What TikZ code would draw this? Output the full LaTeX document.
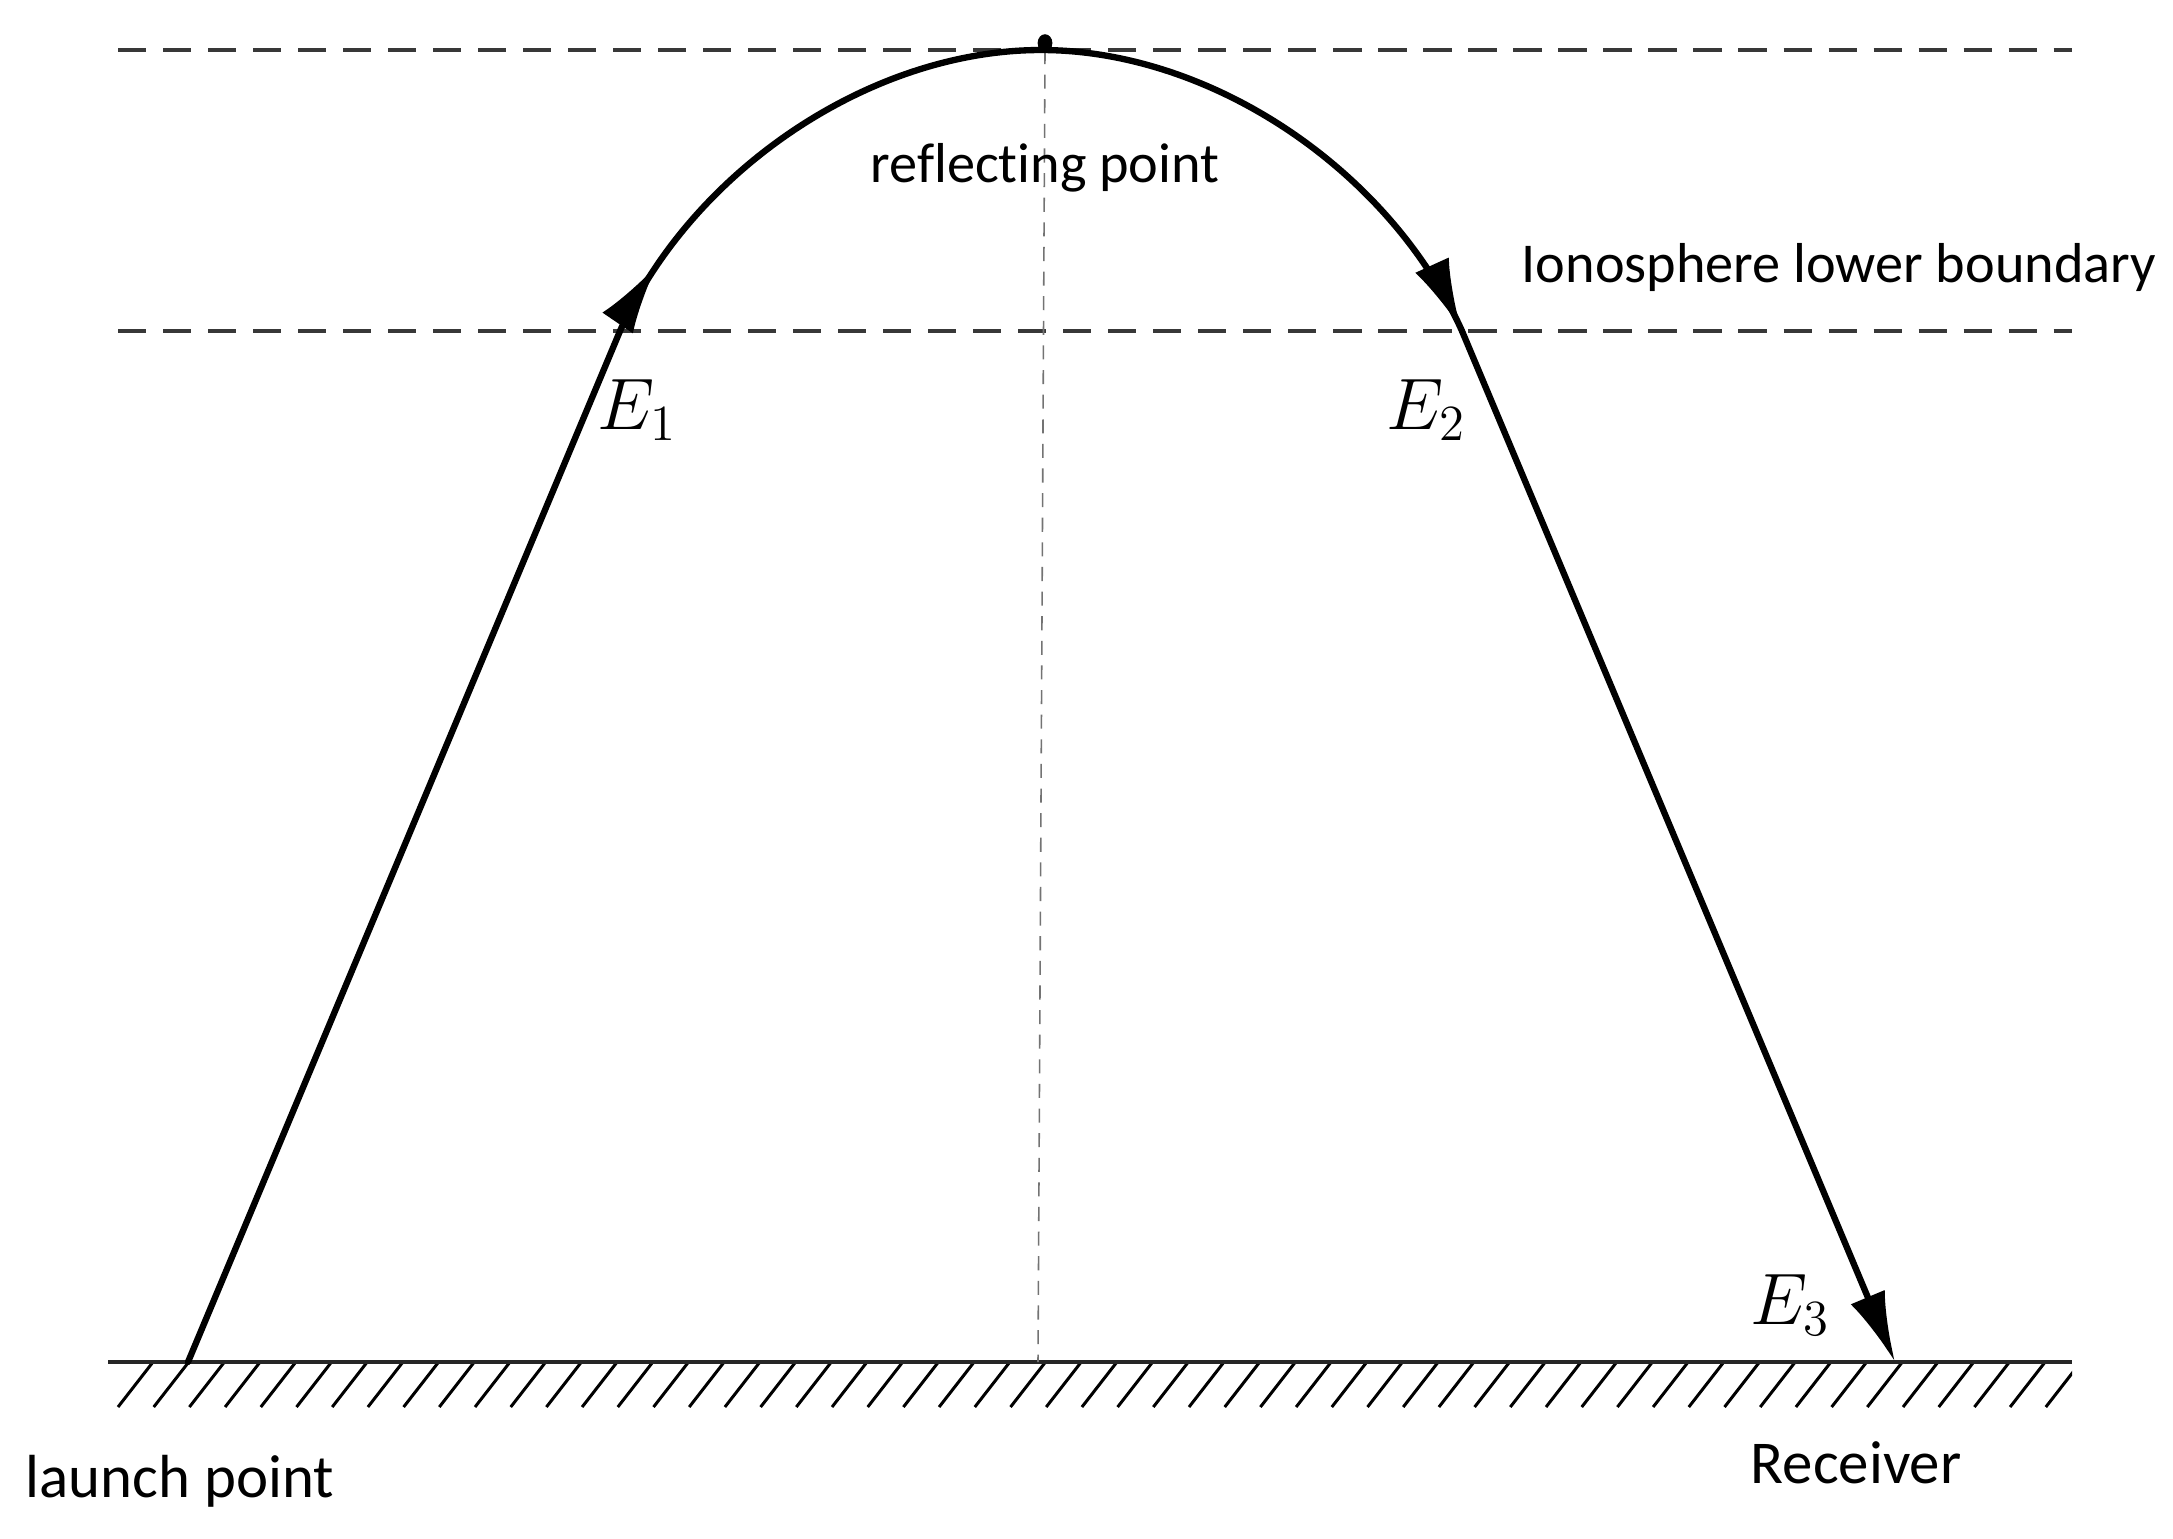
\documentclass[tikz,border=0pt]{standalone}
\usepackage{fontspec}
\setmainfont{Carlito}[Ligatures={NoCommon,NoContextual}]
\usetikzlibrary{arrows.meta,decorations.markings}
\begin{document}
\begin{tikzpicture}[x=0.01cm,y=-0.01cm,
  ray/.style={line width=1.8pt, line join=round, line cap=round},
  headshape/.style={-{Latex[length=20pt,width=10.5pt]}},
  arcmarks/.style={postaction={decorate}, decoration={markings,
      mark=at position 0.76cm with {\arrow{Latex[length=20pt,width=10.5pt]}},
      mark=at position -0.02cm with {\arrow{Latex[length=20pt,width=10.5pt]}}}},
  boundary/.style={line width=1.3pt, draw=black!78, dash pattern=on 8pt off 4.8pt},
  axisline/.style={line width=0.45pt, draw=black!55, dash pattern=on 4pt off 3pt},
  groundline/.style={line width=1.2pt, draw=black!85},
  hatchline/.style={line width=0.85pt},
  lbl/.style={font=\fontsize{16}{19}\selectfont, inner sep=0pt},
  lblbig/.style={font=\fontsize{17.3}{20}\selectfont, inner sep=0pt},
  elbl/.style={font=\fontsize{20}{23}\selectfont, inner sep=0pt}]
\useasboundingbox (0,0) rectangle (2173,1538);
% key points
\coordinate (L) at (188,1362);
\coordinate (A) at (620,331);
\coordinate (T) at (1041,50);
\coordinate (B) at (1462,331);
\coordinate (R) at (1895,1362);
\coordinate (c1) at (692,171);
\coordinate (c2) at (870,50);
\coordinate (c3) at (1212,50);
\coordinate (c4) at (1390,171);
\coordinate (dotP) at (1045,43);
\coordinate (axisTop) at (1045,50);
\coordinate (axisBot) at (1038,1362);
% boundaries
\coordinate (topL) at (118,50);  \coordinate (topR) at (2072,50);
\coordinate (lowL) at (118,331); \coordinate (lowR) at (2072,331);
\draw[boundary] (topL) -- (topR);
\draw[boundary] (lowL) -- (lowR);
% ground
\coordinate (gL) at (108,1362); \coordinate (gR) at (2072,1362);
\begin{scope}
  \clip (108,1355) rectangle (2072,1420);
  \foreach \k in {0,...,55} {
    \draw[hatchline] ({153+35.7*\k},1362) -- ++(-35,45);
  }
\end{scope}
\draw[groundline] (gL) -- (gR);
% axis
\draw[axisline] (axisTop) -- (axisBot);
% ray path
\draw[ray] (L) -- (A);
\draw[ray, arcmarks] (A) .. controls (c1) and (c2) .. (T) .. controls (c3) and (c4) .. (B);
\draw[ray, headshape] (B) -- (R);
\fill (dotP) ellipse (2.1pt and 2.5pt);
% labels
\node[lbl] (refl) at (1045,168) {reflecting point};
\node[lbl] (iono) at (1839,267) {Ionosphere lower boundary};
\node[lblbig] (launch) at (180,1481) {launch point};
\node[lblbig] (recv) at (1856,1463) {Receiver};
\node[elbl] (e1) at (637,410) {$E_1$};
\node[elbl] (e2) at (1426,410) {$E_2$};
\node[elbl] (e3) at (1790,1305) {$E_3$};
\end{tikzpicture}
\end{document}
